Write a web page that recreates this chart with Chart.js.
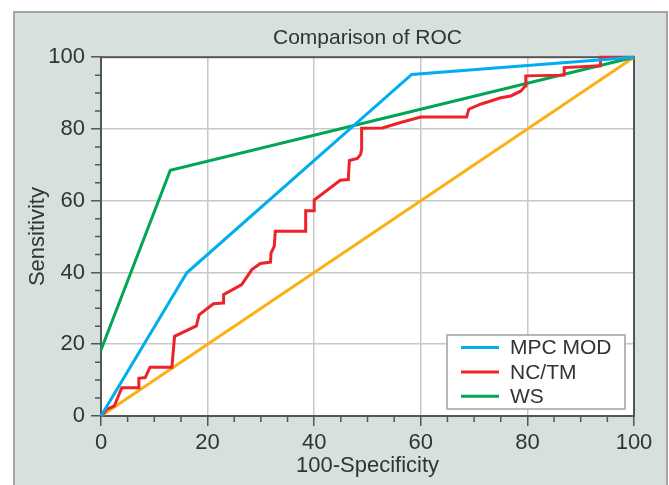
<!DOCTYPE html>
<html>
<head>
<meta charset="utf-8">
<script src="https://cdn.jsdelivr.net/npm/chart.js@4.4.1/dist/chart.umd.min.js"></script>
<style>
  html, body { margin: 0; padding: 0; background: #fff; }
  #wrap { width: 669px; height: 485px; }
</style>
</head>
<body>
<div id="wrap"><canvas id="myChart" width="669" height="485"></canvas></div>
<script>
  // values (x = 100-Specificity, y = Sensitivity)
  var mpcX = [0, 16.1, 58.3, 100];
  var mpcY = [0, 39.9, 95.2, 100];

  var nctmX = [0, 0.3, 1.1, 1.9, 2.5, 3.9, 7.1, 7.1, 8.3, 9.2, 13.3, 13.8, 17.9, 18.4, 21.1, 22.9, 23.0, 26.4, 28.3, 29.9, 31.8, 31.9, 32.5, 32.7, 38.4, 38.4, 40.0, 40.0, 44.9, 46.4, 46.6, 48.1, 48.7, 48.9, 48.9, 52.8, 56.2, 60.0, 68.6, 69.0, 71.2, 75.0, 76.9, 78.8, 79.6, 79.7, 86.9, 86.9, 93.7, 93.7, 100];
  var nctmY = [0, 0.3, 1.9, 2.4, 2.8, 7.9, 7.9, 10.5, 10.7, 13.6, 13.6, 22.2, 25.1, 28.2, 31.3, 31.5, 33.8, 36.6, 40.8, 42.5, 42.9, 45.4, 47.3, 51.5, 51.5, 57.2, 57.2, 60.2, 65.7, 65.9, 71.2, 71.8, 72.9, 74.3, 80.2, 80.3, 81.8, 83.3, 83.3, 85.5, 86.9, 88.7, 89.2, 90.6, 92.0, 94.8, 95.0, 97.1, 97.6, 100, 100];

  var wsX = [0, 13.0, 100];
  var wsY = [18.4, 68.5, 100];

  var refX = [0, 100];
  var refY = [0, 100];

  var xTicks = [0, 20, 40, 60, 80, 100];
  var yTicks = [0, 20, 40, 60, 80, 100];

  var toPoints = (xs, ys) => xs.map((x, i) => ({ x: x, y: ys[i] }));

  var FONT = "'Liberation Sans', Arial, sans-serif";
  var TEXT = '#333333';
  var AXIS = '#555555';

  // page background, grey-green panel, white plot area, frame and minor ticks
  var decor = {
    id: 'decor',
    beforeDraw: (chart) => {
      var c = chart.ctx, a = chart.chartArea;
      c.save();
      c.fillStyle = '#ffffff';
      c.fillRect(0, 0, chart.width, chart.height);
      c.fillStyle = '#d6e1de';
      c.fillRect(14, 12, 653, chart.height);
      c.strokeStyle = '#a5a5a5';
      c.lineWidth = 2;
      c.strokeRect(14, 12, 653, chart.height + 10);
      c.fillStyle = '#ffffff';
      c.fillRect(a.left, a.top, a.right - a.left, a.bottom - a.top);
      c.restore();
    },
    beforeDatasetsDraw: (chart) => {
      var c = chart.ctx, a = chart.chartArea;
      var xs = chart.scales.x, ys = chart.scales.y;
      c.save();
      c.strokeStyle = AXIS;
      c.lineWidth = 2;
      c.strokeRect(a.left, a.top, a.right - a.left, a.bottom - a.top);
      c.lineWidth = 1.5;
      c.beginPath();
      for (var v = 5; v < 100; v += 5) {
        if (v % 20 === 0) continue;
        var px = xs.getPixelForValue(v);
        c.moveTo(px, a.bottom);
        c.lineTo(px, a.bottom + 6);
        var py = ys.getPixelForValue(v);
        c.moveTo(a.left - 6, py);
        c.lineTo(a.left, py);
      }
      c.stroke();
      c.restore();
    },
    afterDraw: (chart) => {
      // legend box inside the plot, lower right
      var c = chart.ctx;
      var items = chart.data.datasets.filter(d => d.inLegend);
      var bx = 447, by = 335, bw = 178, bh = 74;
      c.save();
      c.fillStyle = '#ffffff';
      c.fillRect(bx, by, bw, bh);
      c.strokeStyle = '#a0a0a0';
      c.lineWidth = 1.5;
      c.strokeRect(bx, by, bw, bh);
      c.font = '21px ' + FONT;
      c.textBaseline = 'middle';
      c.fillStyle = TEXT;
      items.forEach((d, i) => {
        var y = by + 12.5 + i * 24.4;
        c.strokeStyle = d.borderColor;
        c.lineWidth = 3;
        c.beginPath();
        c.moveTo(461, y);
        c.lineTo(499, y);
        c.stroke();
        c.fillText(d.label, 510, y + 1);
      });
      c.restore();
    }
  };

  var line = (label, pts, color, inLegend) => ({
    label: label,
    data: pts,
    borderColor: color,
    backgroundColor: color,
    borderWidth: 3,
    pointRadius: 0,
    showLine: true,
    fill: false,
    tension: 0,
    inLegend: inLegend
  });

  var ctx = document.getElementById('myChart').getContext('2d');
  var myChart = new Chart(ctx, {
    type: 'scatter',
    data: {
      datasets: [
        line('diagonal', toPoints(refX, refY), '#fbb116', false),
        line('WS', toPoints(wsX, wsY), '#00a651', true),
        line('NC/TM', toPoints(nctmX, nctmY), '#ee2229', true),
        line('MPC MOD', toPoints(mpcX, mpcY), '#00aeef', true)
      ].reverse()
    },
    options: {
      responsive: false,
      animation: false,
      clip: false,
      layout: { padding: { left: 14, right: 35, top: 0, bottom: 0 } },
      plugins: {
        legend: { display: false },
        tooltip: { enabled: false },
        title: {
          display: true,
          text: 'Comparison of ROC',
          fullSize: false,
          color: TEXT,
          font: { family: FONT, size: 21, weight: 'normal', lineHeight: 1.2 },
          padding: { top: 26, bottom: 6 }
        }
      },
      scales: {
        x: {
          type: 'linear',
          min: 0, max: 100,
          afterBuildTicks: (s) => { s.ticks = xTicks.map(v => ({ value: v })); },
          afterFit: (s) => { s.height = 69; },
          ticks: { color: TEXT, padding: 4, maxRotation: 0, font: { family: FONT, size: 22 } },
          grid: {
            color: (c) => (c.tick && (c.tick.value === 0 || c.tick.value === 100)) ? 'rgba(0,0,0,0)' : '#c8c8c8',
            lineWidth: 1.5,
            tickColor: AXIS,
            tickWidth: 1.5,
            tickLength: 10
          },
          border: { display: true, color: AXIS, width: 2 },
          title: {
            display: true,
            text: '100-Specificity',
            color: TEXT,
            font: { family: FONT, size: 22, lineHeight: 1.2 },
            padding: { top: 0, bottom: 6 }
          }
        },
        y: {
          type: 'linear',
          min: 0, max: 100,
          afterBuildTicks: (s) => { s.ticks = yTicks.map(v => ({ value: v })); },
          afterFit: (s) => { s.width = 87; },
          ticks: { color: TEXT, padding: 6, font: { family: FONT, size: 22 } },
          grid: {
            color: (c) => (c.tick && (c.tick.value === 0 || c.tick.value === 100)) ? 'rgba(0,0,0,0)' : '#c8c8c8',
            lineWidth: 1.5,
            tickColor: AXIS,
            tickWidth: 1.5,
            tickLength: 10
          },
          border: { display: true, color: AXIS, width: 2 },
          title: {
            display: true,
            text: 'Sensitivity',
            color: TEXT,
            font: { family: FONT, size: 22, lineHeight: 1.2 },
            padding: { top: 11, bottom: 0 }
          }
        }
      }
    },
    plugins: [decor]
  });
</script>
</body>
</html>
